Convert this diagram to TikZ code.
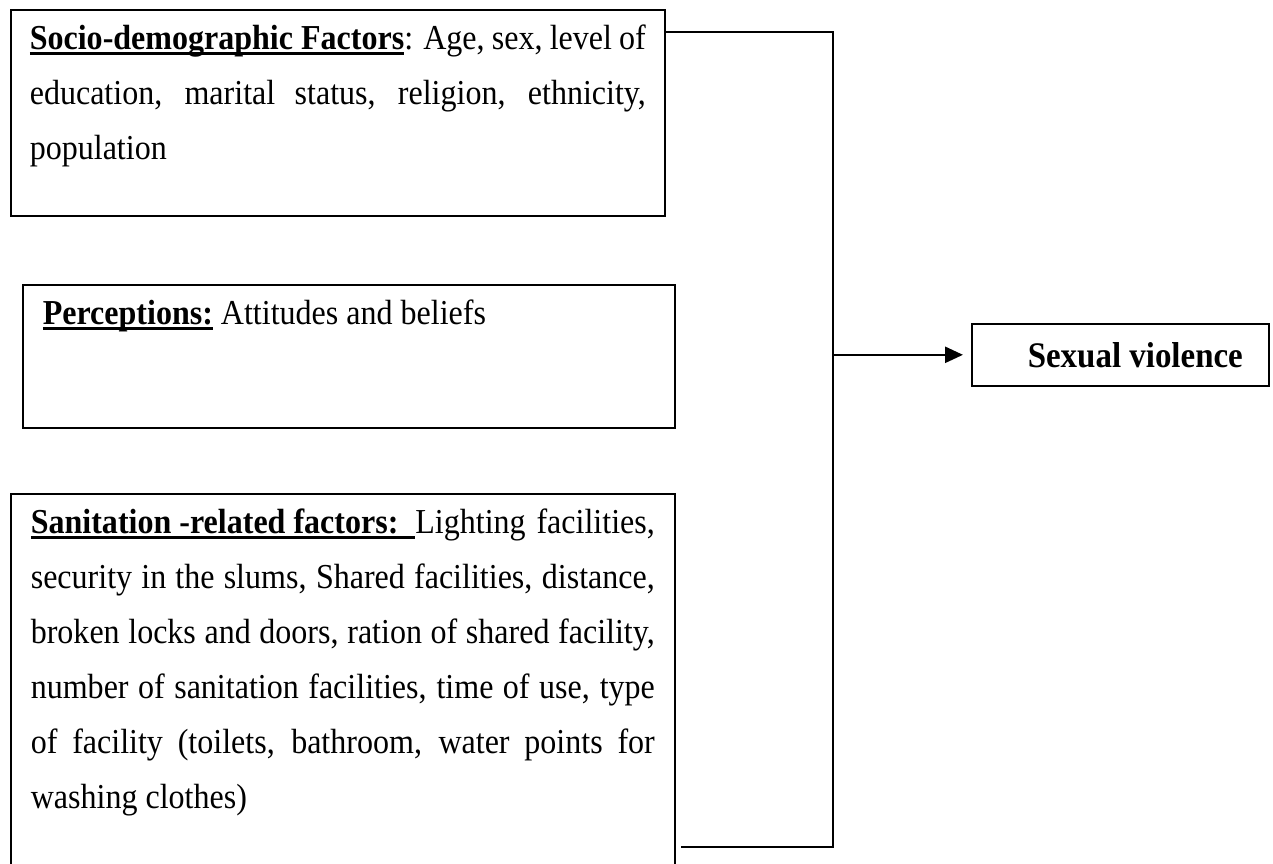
\documentclass[tikz,border=0pt]{standalone}
\usepackage{fontspec}
\setmainfont{Liberation Serif}[FakeStretch=0.915]
\usetikzlibrary{arrows.meta}
\hyphenpenalty=10000
\tolerance=10000
% underline in the way of a word processor
\newsavebox{\ulsave}
\newcommand{\ulword}[1]{\sbox{\ulsave}{#1}\rlap{\rule[-2.5pt]{\wd\ulsave}{1.2pt}}\usebox{\ulsave}}
% text block of a factor box: width, height, text
\newcommand{\factortext}[3]{\parbox[t][#2][t]{#1}{\rule{0pt}{20pt}#3}}
\tikzset{
  factor/.style={draw, line width=0.8pt, anchor=north west, inner xsep=10pt, inner ysep=0pt,
    font=\fontsize{17.5}{27.5}\selectfont},
  outcomebox/.style={draw, line width=0.8pt, anchor=north west, minimum width=148.5pt,
    minimum height=31pt, inner xsep=13pt, font=\bfseries\fontsize{18}{20}\selectfont},
  link/.style={line width=0.9pt},
}
\begin{document}
\begin{tikzpicture}[x=0.5pt,y=-0.5pt]
\useasboundingbox (0,0) rectangle (1273,863);
\node[factor, inner xsep=9.5pt] (socio) at (10,9) {\factortext{308pt}{103pt}{%
\ulword{\textbf{Socio-demographic Factors}}: Age, sex, level of\linebreak
education, marital status, religion, ethnicity,\linebreak
population}};
\node[factor] (percep) at (22,284) {\factortext{306pt}{71.5pt}{%
\ulword{\textbf{Perceptions:}} Attitudes and beliefs}};
\node[factor] (sanit) at (10,493) {\factortext{312pt}{210pt}{%
\ulword{\textbf{Sanitation -related factors:}\hspace{8.5pt}}Lighting facilities,\linebreak
security in the slums, Shared facilities, distance,\linebreak
broken locks and doors, ration of shared facility,\linebreak
number of sanitation facilities, time of use, type\linebreak
of facility (toilets, bathroom, water points for\linebreak
washing clothes)}};
\node[outcomebox] (outcome) at (971,323) {\makebox[122.5pt][r]{Sexual violence}};
% joining line
\coordinate (bus top) at (833,32);
\coordinate (bus end) at (833,847);
\draw[link, shorten >=2.5pt] (socio.east |- bus top) -- (bus top) -- (bus end) -- (sanit.east |- bus end);
\draw[link, line width=1.3pt, shorten >=4pt, -{Triangle[length=9pt,width=8pt]}] (bus top |- outcome.west) -- (outcome.west);
\end{tikzpicture}
\end{document}
